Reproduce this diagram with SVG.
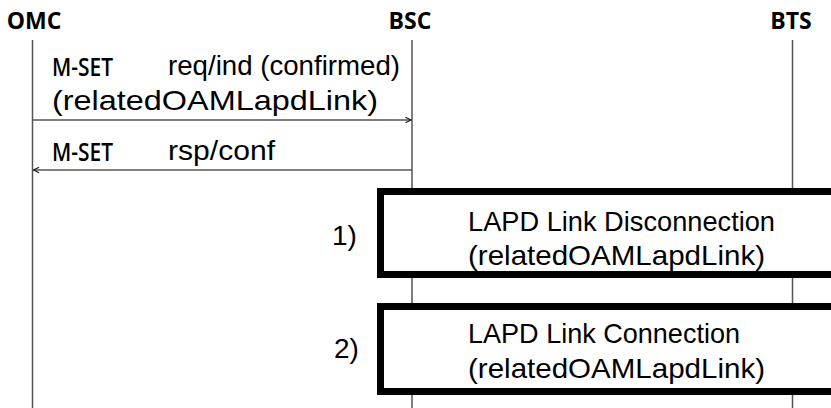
<svg xmlns="http://www.w3.org/2000/svg" width="831" height="408" viewBox="0 0 831 408">
<style>
.life{stroke:#555;stroke-width:1.5;fill:none}
.msg{stroke:#555;stroke-width:1.3;fill:none}
.hdr{font-family:"Open Sans","Noto Sans",sans-serif;font-weight:700;font-size:23px;fill:#000;text-anchor:middle}
.op{font-family:"Open Sans","Noto Sans",sans-serif;font-weight:600;font-size:25px;fill:#000}
.t{font-family:"Liberation Sans",Arial,sans-serif;font-size:28px;fill:#000}
.box{fill:#fff;stroke:#000;stroke-width:7}
</style>
<defs>
<marker id="ah" viewBox="0 0 10 10" refX="9" refY="5" markerWidth="7" markerHeight="7" markerUnits="userSpaceOnUse" orient="auto">
<path d="M1,1 L9,5 L1,9" fill="none" stroke="#222" stroke-width="1.6"/>
</marker>
</defs>
<g id="lifelines">
<line class="life" x1="32.5" y1="40" x2="32.5" y2="408"/>
<line class="life" x1="412" y1="40" x2="412" y2="408"/>
<line class="life" x1="792.5" y1="40" x2="792.5" y2="408"/>
</g>
<g id="omc"><text class="hdr" x="34" y="29">OMC</text></g>
<g id="bsc"><text class="hdr" x="410" y="29">BSC</text></g>
<g id="bts"><text class="hdr" x="791" y="29">BTS</text></g>
<g id="connectors">
<line class="msg" x1="32.5" y1="120" x2="411" y2="120" marker-end="url(#ah)"/>
<line class="msg" x1="412" y1="170" x2="33.5" y2="170" marker-end="url(#ah)"/>
</g>
<g id="msg1-label">
<text class="op" x="52" y="76" textLength="61" lengthAdjust="spacingAndGlyphs">M-SET</text>
<text class="t" x="168" y="75" textLength="232" lengthAdjust="spacingAndGlyphs">req/ind (confirmed)</text>
<text class="t" x="52" y="110" textLength="326" lengthAdjust="spacingAndGlyphs">(relatedOAMLapdLink)</text>
</g>
<g id="msg2-label">
<text class="op" x="52" y="161" textLength="61" lengthAdjust="spacingAndGlyphs">M-SET</text>
<text class="t" x="168" y="160" textLength="107" lengthAdjust="spacingAndGlyphs">rsp/conf</text>
</g>
<g id="step1">
<text class="t" x="332" y="245">1)</text>
<rect class="box" x="380.5" y="191.5" width="470" height="83"/>
<text class="t" x="468" y="231" textLength="307" lengthAdjust="spacingAndGlyphs">LAPD Link Disconnection</text>
<text class="t" x="468" y="265" textLength="297" lengthAdjust="spacingAndGlyphs">(relatedOAMLapdLink)</text>
</g>
<g id="step2">
<text class="t" x="334" y="358">2)</text>
<rect class="box" x="380.5" y="306.5" width="470" height="85"/>
<text class="t" x="468" y="343" textLength="272" lengthAdjust="spacingAndGlyphs">LAPD Link Connection</text>
<text class="t" x="468" y="378" textLength="297" lengthAdjust="spacingAndGlyphs">(relatedOAMLapdLink)</text>
</g>
</svg>
